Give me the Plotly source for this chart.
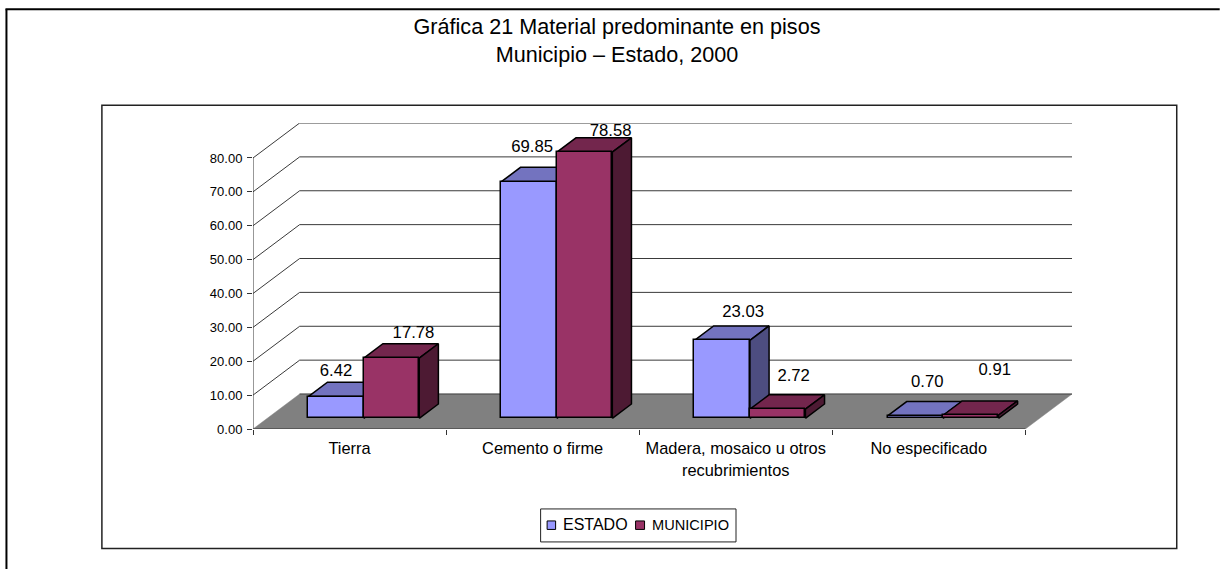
import plotly.graph_objects as go

# ---- data ----
CATEGORIES = ["Tierra", "Cemento o firme", "Madera, mosaico u otros<br>recubrimientos", "No especificado"]
SERIES_NAMES = ["ESTADO", "MUNICIPIO"]
ESTADO = [6.42, 69.85, 23.03, 0.70]
MUNICIPIO = [17.78, 78.58, 2.72, 0.91]
Y_TICKS = [0, 10, 20, 30, 40, 50, 60, 70, 80]
TITLE = "Gráfica 21 Material predominante en pisos<br>Municipio – Estado, 2000"

# ---- page geometry (pixels) ----
W, H = 1220, 569
X0_PX, Y0_PX = 252.7, 429.0          # origin of the value/category axes
CAT_PX, UNIT_PX = 193.2, 3.39        # pixels per category, per value unit
DEPTH_DX_PX, DEPTH_DY_PX = 46.7, 35  # depth of the 3-D box
XMAX = 4 + DEPTH_DX_PX / CAT_PX
YMAX = 80 + DEPTH_DY_PX / UNIT_PX
DX, DY = DEPTH_DX_PX / CAT_PX, DEPTH_DY_PX / UNIT_PX  # full depth in data units
BAR_W = 55.5 / CAT_PX
NEAR, FAR = 0.305, 0.715             # fractions of the depth occupied by bars

# label offsets from the front-top centre of each bar (pixels)
EST_LABEL_OFF = [(0, 25), (3, 33.5), (21, 28), (12, 33)]
MUN_LABEL_OFF = [(22, 24), (26, 20), (16, 32), (24, 44)]

COL = {"ESTADO": ("#9999FF", "#7373BF", "#4D4D80"), "MUNICIPIO": ("#993366", "#73264D", "#4D1A33")}
GRID = "#3a3a3a"
FONT = "Liberation Sans"


def proj(x, y, d):
    return x + d * DX, y + d * DY


fig = go.Figure()


def poly(pts, fill, z, line="#000000", lw=1.5):
    xs = [p[0] for p in pts] + [pts[0][0]]
    ys = [p[1] for p in pts] + [pts[0][1]]
    fig.add_trace(go.Scatter(x=xs, y=ys, mode="lines", fill="toself", fillcolor=fill,
                             line=dict(color=line, width=lw), showlegend=False,
                             hoverinfo="skip", zorder=z, cliponaxis=False))


def seg(pts, color=GRID, lw=1, z=0):
    fig.add_trace(go.Scatter(x=[p[0] for p in pts], y=[p[1] for p in pts], mode="lines",
                             line=dict(color=color, width=lw), showlegend=False,
                             hoverinfo="skip", zorder=z, cliponaxis=False))


# back-wall gridlines and side-wall diagonals
for v in Y_TICKS[1:]:
    seg([proj(0, v, 0), proj(0, v, 1), proj(4, v, 1)])
seg([proj(0, 0, 0), proj(0, 80, 0)], color="#333333")

# floor
floor = [proj(0, 0, 0), proj(0, 0, 1), proj(4, 0, 1), proj(4, 0, 0)]
fig.add_trace(go.Scatter(x=[p[0] for p in floor] + [floor[0][0]], y=[p[1] for p in floor] + [floor[0][1]],
                         mode="lines", fill="toself", fillcolor="#808080", line=dict(color="#808080", width=0.5),
                         showlegend=False, hoverinfo="skip", zorder=0, cliponaxis=False))
seg([proj(0, 0, 1), proj(4, 0, 1)], color="#444444", z=0)
seg([proj(0, 0, 0), proj(4, 0, 0)], color="#333333", z=0)

# bars
centres = [i + 0.5 for i in range(len(CATEGORIES))]
label_x, label_y, label_t = [], [], []
for name, values, side, zbase, offs in ((SERIES_NAMES[0], ESTADO, -1, 2, EST_LABEL_OFF),
                                        (SERIES_NAMES[1], MUNICIPIO, 0, 5, MUN_LABEL_OFF)):
    front, top, lateral = COL[name]
    xs, bases = [], []
    for c, v, off in zip(centres, values, offs):
        x_left = c + side * BAR_W
        x_right = x_left + BAR_W
        xn, yn = proj(x_left, 0, NEAR)
        xr, _ = proj(x_right, 0, NEAR)
        d = FAR - NEAR
        poly([(xn, yn + v), (xr, yn + v), (xr + d * DX, yn + v + d * DY), (xn + d * DX, yn + v + d * DY)], top, zbase)
        poly([(xr, yn), (xr + d * DX, yn + d * DY), (xr + d * DX, yn + v + d * DY), (xr, yn + v)], lateral, zbase)
        xs.append(xn + BAR_W / 2)
        bases.append(yn)
        label_x.append(xn + BAR_W / 2 + off[0] / CAT_PX)
        label_y.append(yn + v + off[1] / UNIT_PX)
        label_t.append(f"{v:.2f}")
    fig.add_trace(go.Bar(x=xs, y=values, base=bases, width=BAR_W, name=name, showlegend=False,
                         marker=dict(color=front, line=dict(color="#000000", width=1.5)),
                         hoverinfo="skip", zorder=zbase + 1))

fig.add_trace(go.Scatter(x=label_x, y=label_y, text=label_t, mode="text", textposition="middle center",
                         textfont=dict(family=FONT, size=16.7, color="#000000"), showlegend=False,
                         hoverinfo="skip", zorder=10, cliponaxis=False))

plot_w = XMAX * CAT_PX
plot_h = YMAX * UNIT_PX
ml, mb = X0_PX, H - Y0_PX
mr, mt = W - ml - plot_w, H - mb - plot_h


def px(x):
    return (x - ml) / plot_w


def py(y):
    return (H - mb - y) / plot_h


shapes = [
    dict(type="rect", xref="paper", yref="paper", x0=px(101.5), x1=px(1177), y0=py(548.5), y1=py(105),
         line=dict(color="#222222", width=1.5), layer="below"),
    dict(type="line", xref="paper", yref="paper", x0=px(6), x1=px(6), y0=py(569), y1=py(9),
         line=dict(color="#000000", width=2)),
    dict(type="line", xref="paper", yref="paper", x0=px(5), x1=px(1220), y0=py(9), y1=py(9),
         line=dict(color="#000000", width=2)),
    # legend box and swatches
    dict(type="rect", xref="paper", yref="paper", x0=px(540.5), x1=px(736), y0=py(542), y1=py(509),
         line=dict(color="#222222", width=1), fillcolor="white"),
    dict(type="rect", xref="paper", yref="paper", x0=px(547), x1=px(555.5), y0=py(529.5), y1=py(521),
         line=dict(color="#000000", width=1), fillcolor=COL["ESTADO"][0]),
    dict(type="rect", xref="paper", yref="paper", x0=px(635.5), x1=px(644.5), y0=py(529.5), y1=py(521),
         line=dict(color="#000000", width=1), fillcolor=COL["MUNICIPIO"][0]),
]

annotations = [
    dict(text=SERIES_NAMES[0], xref="paper", yref="paper", x=px(561), y=py(525), xanchor="left", yanchor="middle",
         showarrow=False, font=dict(family=FONT, size=16, color="#000000")),
    dict(text=SERIES_NAMES[1], xref="paper", yref="paper", x=px(650), y=py(525), xanchor="left", yanchor="middle",
         showarrow=False, font=dict(family=FONT, size=14.6, color="#000000")),
]

fig.update_layout(
    width=W, height=H, autosize=False, barmode="overlay", bargap=0, showlegend=False,
    margin=dict(l=ml, r=mr, t=mt, b=mb, pad=0),
    paper_bgcolor="white", plot_bgcolor="rgba(0,0,0,0)",
    font=dict(family=FONT, color="#000000"),
    title=dict(text=TITLE, x=617 / W, xanchor="center", y=1 - 34 / H, yanchor="top",
               font=dict(family=FONT, size=21.6, color="#000000")),
    shapes=shapes,
    annotations=annotations,
    xaxis=dict(range=[0, XMAX], showgrid=False, zeroline=False, showline=False,
               tickmode="array", tickvals=centres, ticktext=CATEGORIES, ticks="",
               ticklabelstandoff=8,
               tickfont=dict(family=FONT, size=16.4, color="#000000"),
               minor=dict(tickmode="array", tickvals=[0, 1, 2, 3, 4], ticks="outside", ticklen=5,
                          tickcolor="#333333", tickwidth=1, showgrid=False)),
    yaxis=dict(range=[0, YMAX], showgrid=False, zeroline=False, showline=False,
               tickmode="array", tickvals=Y_TICKS, ticktext=[f"{v:.2f}" for v in Y_TICKS],
               ticks="outside", ticklen=5, tickcolor="#333333", tickwidth=1, ticklabelstandoff=2,
               tickfont=dict(family=FONT, size=13, color="#000000")),
)

fig.write_html("out.html", config={"displayModeBar": False}, post_script="document.body.style.margin='0';")
